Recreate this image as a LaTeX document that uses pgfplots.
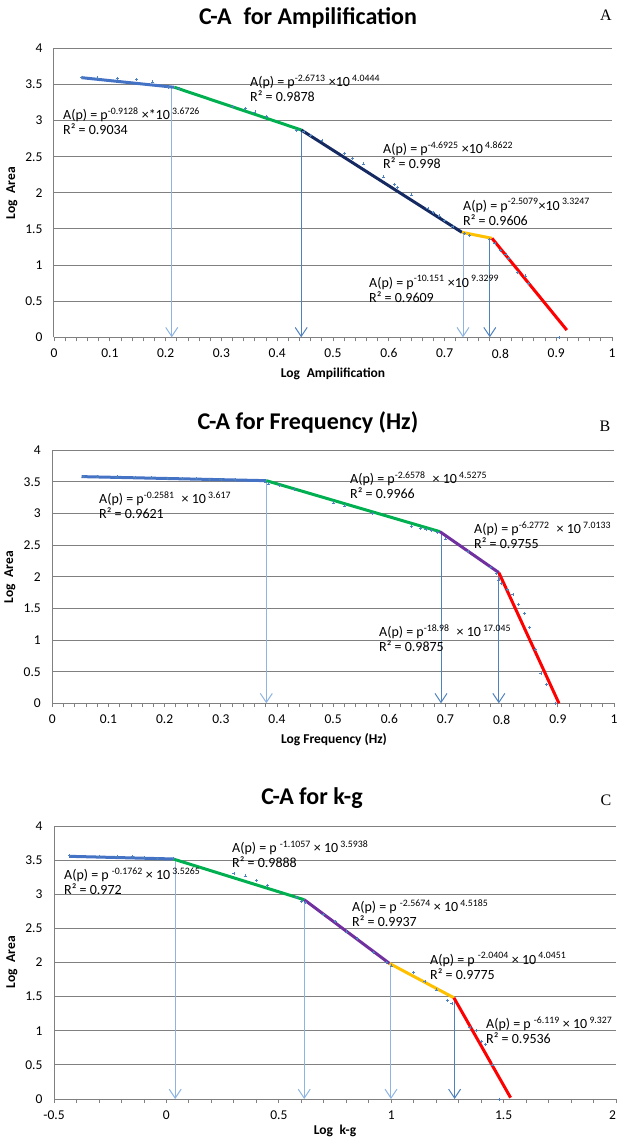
\documentclass[border=0pt]{standalone}
\usepackage{fontspec}
\setmainfont{Carlito}
\newfontfamily\serifletter{Liberation Serif}
\usepackage{pgfplots}
\pgfplotsset{compat=1.18}
\usetikzlibrary{arrows.meta}
\definecolor{gridgray}{RGB}{128,128,128}
\definecolor{lblue}{RGB}{68,114,196}
\definecolor{lgreen}{RGB}{0,176,80}
\definecolor{lnavy}{RGB}{22,42,98}
\definecolor{lyellow}{RGB}{255,192,0}
\definecolor{lred}{RGB}{255,0,0}
\definecolor{lpurple}{RGB}{112,48,160}
\definecolor{arlight}{RGB}{141,180,226}
\definecolor{armed}{RGB}{79,129,189}
\definecolor{ptblue}{RGB}{79,129,189}
\pgfplotsset{
  capanel/.style={
    scale only axis, clip=false,
    axis x line=bottom, axis y line=left,
    axis line style={draw=gridgray, line width=1pt, -},
    ymin=0, ymax=4,
    ytick={0,0.5,1,1.5,2,2.5,3,3.5,4},
    yticklabels={0,0.5,1,1.5,2,2.5,3,3.5,4},
    ymajorgrids,
    major grid style={draw=gridgray, line width=1pt},
    tick align=outside,
    major tick length=4pt, minor tick length=4pt,
    every tick/.style={draw=gridgray, line width=0.8pt},
    ytick style={draw=none},
    tick label style={font=\fontsize{13.5}{15}\selectfont, text=black},
    xticklabel style={yshift=-4pt},
    yticklabel style={xshift=-4pt},
    /pgf/number format/assume math mode=true,
  },
  fit/.style={line width=3pt},
  pts/.style={only marks, mark=+, mark size=1.5pt, ptblue, mark options={line width=0.6pt}},
  arr/.style={line width=1pt, -{Straight Barb[length=9pt, width=12pt, line width=1pt]}},
}
\newcommand{\ann}[1]{\fontsize{14}{16}\selectfont #1}
\newcommand{\sps}[1]{\textsuperscript{#1}}
\newcommand{\ttl}{\bfseries\fontsize{24}{27}\selectfont}
\newcommand{\axl}{\bfseries\fontsize{13.5}{15}\selectfont}
\begin{document}
\begin{tikzpicture}[x=1pt,y=1pt]
\useasboundingbox (0,0) rectangle (617,-1142);
% ---------------- Panel A ----------------
\node[font=\ttl] at (308,-18) {C-A\enspace for Ampilification};
\node[font=\serifletter\fontsize{16}{18}\selectfont] at (606,-15) {A};
\begin{axis}[capanel, at={(54pt,-337.3pt)}, anchor=south west,
  width=558pt, height=289pt, xmin=0, xmax=1,
  xtick={0,0.1,0.2,0.3,0.4,0.5,0.6,0.7,0.8,0.9,1},
  xticklabels={0,0.1,0.2,0.3,0.4,0.5,0.6,0.7,0.8,0.9,1},
  minor x tick num=4]
\addplot[pts] coordinates {(0.05,3.60)(0.078,3.59)(0.114,3.585)(0.148,3.57)(0.177,3.535)(0.205,3.46)(0.224,3.44)
 (0.32,3.20)(0.343,3.17)(0.36,3.12)(0.38,3.06)(0.434,2.86)(0.448,2.85)(0.46,2.80)(0.48,2.73)(0.52,2.55)(0.535,2.48)
 (0.555,2.40)(0.59,2.22)(0.61,2.12)(0.615,2.08)(0.64,1.97)(0.67,1.78)(0.68,1.73)(0.69,1.68)(0.70,1.62)(0.715,1.53)
 (0.735,1.44)(0.745,1.41)(0.78,1.35)(0.79,1.30)(0.80,1.20)(0.81,1.15)(0.815,1.09)(0.83,0.90)(0.845,0.85)(0.85,0.75)(0.905,0.0)};
\addplot[arr, arlight] coordinates {(0.211,3.46)(0.211,0)};
\addplot[arr, armed] coordinates {(0.443,2.87)(0.443,0)};
\addplot[arr, arlight] coordinates {(0.733,1.45)(0.733,0)};
\addplot[arr, armed] coordinates {(0.781,1.37)(0.781,0)};
\addplot[fit, lblue] coordinates {(0.049,3.594)(0.216,3.46)};
\addplot[fit, lgreen] coordinates {(0.216,3.46)(0.443,2.87)};
\addplot[fit, lnavy] coordinates {(0.443,2.87)(0.731,1.453)};
\addplot[fit, lyellow] coordinates {(0.731,1.453)(0.785,1.37)};
\addplot[fit, lred] coordinates {(0.785,1.37)(0.919,0.10)};
\end{axis}
\node[font=\axl, rotate=90] at (12,-193) {Log\enspace Area};
\node[font=\axl] at (333,-374) {Log\enspace Ampilification};
\node[anchor=west, align=left, inner sep=0pt] at (250,-88) {\ann{A(p) = p\sps{-2.6713} ×10\sps{ 4.0444}}\\[1pt]\ann{R² = 0.9878}};
\node[anchor=west, align=left, inner sep=0pt] at (63,-121) {\ann{A(p) = p\sps{-0.9128} ×*10\sps{ 3.6726}}\\[1pt]\ann{R² = 0.9034}};
\node[anchor=west, align=left, inner sep=0pt] at (383,-155) {\ann{A(p) = p\sps{-4.6925} ×10\sps{ 4.8622}}\\[1pt]\ann{R² = 0.998}};
\node[anchor=west, align=left, inner sep=0pt] at (463,-212) {\ann{A(p) = p\sps{-2.5079}×10\sps{ 3.3247}}\\[1pt]\ann{R² = 0.9606}};
\node[anchor=west, align=left, inner sep=0pt] at (369,-289) {\ann{A(p) = p\sps{-10.151} ×10\sps{ 9.3299}}\\[1pt]\ann{R² = 0.9609}};
% ---------------- Panel B ----------------
\node[font=\ttl] at (308,-422) {C-A for Frequency (Hz)};
\node[font=\serifletter\fontsize{16}{18}\selectfont] at (605,-426) {B};
\begin{axis}[capanel, at={(52.3pt,-703.3pt)}, anchor=south west,
  width=561.7pt, height=253pt, xmin=0, xmax=1,
  xtick={0,0.1,0.2,0.3,0.4,0.5,0.6,0.7,0.8,0.9,1},
  xticklabels={0,0.1,0.2,0.3,0.4,0.5,0.6,0.7,0.8,0.9,1},
  minor x tick num=4]
\addplot[pts] coordinates {(0.055,3.585)(0.08,3.58)(0.115,3.58)(0.147,3.575)(0.176,3.57)(0.205,3.56)(0.232,3.555)
 (0.257,3.55)(0.28,3.545)(0.30,3.54)(0.325,3.535)(0.38,3.50)(0.385,3.47)(0.405,3.45)(0.43,3.38)(0.50,3.17)(0.52,3.12)
 (0.57,3.00)(0.64,2.80)(0.655,2.77)(0.665,2.75)(0.675,2.73)(0.685,2.70)(0.70,2.60)(0.74,2.40)(0.78,2.15)(0.79,2.05)
 (0.795,1.95)(0.80,1.90)(0.81,1.80)(0.82,1.72)(0.83,1.57)(0.84,1.42)(0.85,1.20)(0.86,0.85)(0.87,0.47)(0.88,0.30)(0.895,0.0)};
\addplot[arr, arlight] coordinates {(0.381,3.52)(0.381,0)};
\addplot[arr, armed] coordinates {(0.692,2.714)(0.692,0)};
\addplot[arr, armed] coordinates {(0.795,2.066)(0.795,0)};
\addplot[fit, lblue] coordinates {(0.052,3.584)(0.381,3.52)};
\addplot[fit, lgreen] coordinates {(0.381,3.52)(0.690,2.714)};
\addplot[fit, lpurple] coordinates {(0.690,2.714)(0.795,2.066)};
\addplot[fit, lred] coordinates {(0.795,2.066)(0.902,0)};
\end{axis}
\node[font=\axl, rotate=90] at (10,-577) {Log\enspace Area};
\node[font=\axl] at (334,-740) {Log Frequency (Hz)};
\node[anchor=west, align=left, inner sep=0pt] at (99,-505) {\ann{A(p) = p\sps{-0.2581}\enspace × 10\sps{ 3.617}}\\[1pt]\ann{R² = 0.9621}};
\node[anchor=west, align=left, inner sep=0pt] at (350,-485) {\ann{A(p) = p\sps{-2.6578}\enspace × 10\sps{ 4.5275}}\\[1pt]\ann{R² = 0.9966}};
\node[anchor=west, align=left, inner sep=0pt] at (474,-535) {\ann{A(p) = p\sps{-6.2772}\enspace × 10\sps{ 7.0133}}\\[1pt]\ann{R² = 0.9755}};
\node[anchor=west, align=left, inner sep=0pt] at (379,-638) {\ann{A(p) = p\sps{-18.98}\enspace × 10\sps{ 17.045}}\\[1pt]\ann{R² = 0.9875}};
% ---------------- Panel C ----------------
\node[font=\ttl] at (312,-798) {C-A for k-g};
\node[font=\serifletter\fontsize{16}{18}\selectfont] at (606,-800) {C};
\begin{axis}[capanel, at={(54pt,-1099pt)}, anchor=south west,
  width=562pt, height=273pt, xmin=-0.5, xmax=2,
  xtick={-0.5,0,0.5,1,1.5,2},
  xticklabels={-0.5,0,0.5,1,1.5,\hbox to 0pt{\hss 2}},
  minor x tick num=4]
\addplot[pts] coordinates {(-0.43,3.57)(-0.30,3.56)(-0.22,3.56)(-0.15,3.55)(-0.10,3.54)(-0.04,3.53)(0.03,3.52)
 (0.30,3.30)(0.35,3.27)(0.40,3.20)(0.45,3.13)(0.58,2.95)(0.60,2.90)(0.62,2.88)(0.70,2.70)(0.75,2.60)(0.80,2.45)
 (0.85,2.35)(0.92,2.15)(0.98,2.00)(1.00,1.95)(1.10,1.85)(1.15,1.72)(1.20,1.60)(1.25,1.45)(1.27,1.40)(1.35,1.05)
 (1.38,1.00)(1.40,0.85)(1.42,0.80)(1.45,0.50)(1.48,0.0)};
\addplot[arr, arlight] coordinates {(0.039,3.517)(0.039,0)};
\addplot[arr, arlight] coordinates {(0.613,2.92)(0.613,0)};
\addplot[arr, arlight] coordinates {(0.999,1.985)(0.999,0)};
\addplot[arr, armed] coordinates {(1.282,1.483)(1.282,0)};
\addplot[fit, lblue] coordinates {(-0.433,3.556)(0.030,3.517)};
\addplot[fit, lgreen] coordinates {(0.030,3.517)(0.613,2.92)};
\addplot[fit, lpurple] coordinates {(0.613,2.92)(0.993,1.985)};
\addplot[fit, lyellow] coordinates {(0.993,1.985)(1.279,1.483)};
\addplot[fit, lred] coordinates {(1.279,1.483)(1.531,0.02)};
\end{axis}
\node[font=\axl, rotate=90] at (12,-962) {Log\enspace Area};
\node[font=\axl] at (335,-1131) {Log\enspace k-g};
\node[anchor=west, align=left, inner sep=0pt] at (64,-881) {\ann{A(p) = p \sps{-0.1762} × 10\sps{ 3.5265}}\\[1pt]\ann{R² = 0.972}};
\node[anchor=west, align=left, inner sep=0pt] at (232,-854) {\ann{A(p) = p \sps{-1.1057} × 10\sps{ 3.5938}}\\[1pt]\ann{R² = 0.9888}};
\node[anchor=west, align=left, inner sep=0pt] at (352,-913) {\ann{A(p) = p \sps{-2.5674} × 10\sps{ 4.5185}}\\[1pt]\ann{R² = 0.9937}};
\node[anchor=west, align=left, inner sep=0pt] at (430,-966) {\ann{A(p) = p \sps{-2.0404} × 10\sps{ 4.0451}}\\[1pt]\ann{R² = 0.9775}};
\node[anchor=west, align=left, inner sep=0pt] at (486,-1030) {\ann{A(p) = p \sps{-6.119} × 10\sps{ 9.327}}\\[1pt]\ann{R² = 0.9536}};
\end{tikzpicture}
\end{document}
